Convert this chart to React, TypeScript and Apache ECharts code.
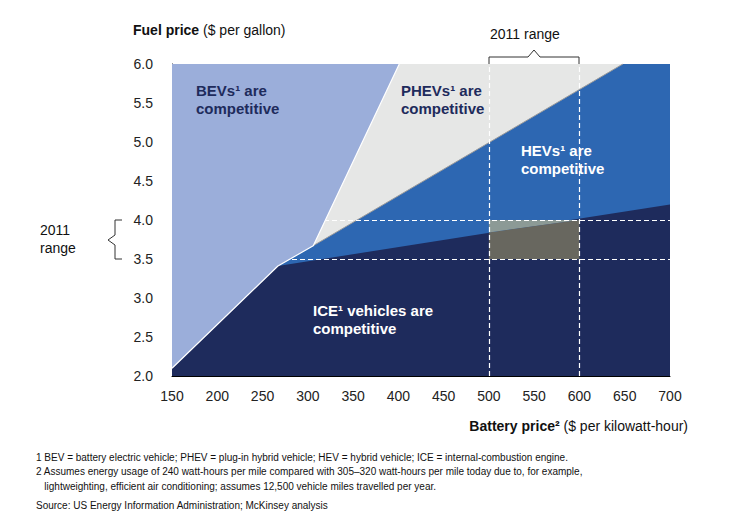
import React, { useEffect, useRef } from "react";
import * as echarts from "echarts";

// Boundaries between competitive regions (battery price $/kWh, fuel price $/gal)
const bevBoundary: number[][] = [[150, 2.1], [267, 3.41], [306, 3.67], [401, 6.0]];
const iceBoundary: number[][] = [[150, 2.1], [267, 3.41], [700, 4.2]];
const phevBoundary: number[][] = [[306, 3.67], [648, 6.0]];
// 2011 range box
const rangeBattery: number[] = [500, 600];
const rangeFuel: number[] = [3.5, 4.0];
const boxIceEdge: number[][] = [[500, 3.84], [600, 4.0]];

const xMin = 150, xMax = 700, xStep = 50;
const yMin = 2, yMax = 6, yStep = 0.5;

const footnotes: string[] = [
  "1 BEV = battery electric vehicle; PHEV = plug-in hybrid vehicle; HEV = hybrid vehicle; ICE = internal-combustion engine.",
  "2 Assumes energy usage of 240 watt-hours per mile compared with 305\u2013320 watt-hours per mile today due to, for example,",
  "   lightweighting, efficient air conditioning; assumes 12,500 vehicle miles travelled per year.",
];
const source = "Source: US Energy Information Administration; McKinsey analysis";

const FONT = "'Liberation Sans', Arial, sans-serif";
const NAVY = "#1E2B5C";
const HEV = "#2D67B2";
const BEV = "#9BAEDA";
const GRAY = "#E6E7E6";

export default function App() {
  const ref = useRef<HTMLDivElement>(null);
  useEffect(() => {
    if (!ref.current) return;
    const chart = echarts.init(ref.current, undefined, { renderer: "svg" });
    const regionLabel = (x: number, y: number, l1: string, l2: string, color: string) => ({
      type: "text",
      left: x,
      top: y,
      style: {
        text: l1 + "\n" + l2,
        fill: color,
        font: `bold 15px ${FONT}`,
        lineHeight: 18,
      },
      z: 100,
    });
    chart.setOption({
      animation: false,
      textStyle: { fontFamily: FONT },
      grid: {
        left: 172,
        top: 64,
        right: 62,
        bottom: 145,
        show: true,
        backgroundColor: HEV,
        borderWidth: 0,
      },
      xAxis: {
        type: "value",
        min: xMin,
        max: xMax,
        interval: xStep,
        axisLine: { show: true, lineStyle: { color: "#000", width: 1 } },
        axisTick: { show: true, inside: true, length: 5, lineStyle: { color: "#fff" } },
        axisLabel: { color: "#222", fontSize: 14, margin: 13, fontFamily: FONT },
        splitLine: { show: false },
      },
      yAxis: {
        type: "value",
        min: yMin,
        max: yMax,
        interval: yStep,
        axisLine: { show: true, lineStyle: { color: "#000", width: 1 } },
        axisTick: { show: true, inside: true, length: 5, lineStyle: { color: "#000" } },
        axisLabel: {
          color: "#222",
          fontSize: 14,
          margin: 19,
          fontFamily: FONT,
          formatter: (v: number) => v.toFixed(1),
        },
        splitLine: { show: false },
      },
      series: [
        {
          name: "PHEV",
          type: "line",
          data: phevBoundary,
          symbol: "none",
          lineStyle: { color: "#9A9A9A", width: 1 },
          areaStyle: { color: GRAY, opacity: 1, origin: "end" },
          z: 2,
        },
        {
          name: "ICE",
          type: "line",
          data: iceBoundary,
          symbol: "none",
          lineStyle: { width: 0 },
          areaStyle: { color: NAVY, opacity: 1, origin: "start" },
          z: 3,
        },
        {
          name: "Box",
          type: "custom",
          data: [[rangeBattery[0], rangeFuel[0]]],
          z: 4,
          renderItem: (params: any, api: any) => {
            if (params.dataIndex !== 0) return null;
            const lower = [
              [rangeBattery[0], rangeFuel[0]],
              [rangeBattery[1], rangeFuel[0]],
              boxIceEdge[1],
              boxIceEdge[0],
            ].map((p) => api.coord(p));
            const upper = [
              boxIceEdge[0],
              boxIceEdge[1],
              [rangeBattery[1], rangeFuel[1]],
              [rangeBattery[0], rangeFuel[1]],
            ].map((p) => api.coord(p));
            return {
              type: "group",
              children: [
                { type: "polygon", shape: { points: lower }, style: { fill: "#68675F" } },
                { type: "polygon", shape: { points: upper }, style: { fill: "#8C9A96" } },
              ],
            };
          },
        },
        {
          name: "BEV",
          type: "line",
          data: bevBoundary,
          symbol: "none",
          lineStyle: { color: "#FFFFFF", width: 1.2 },
          areaStyle: { color: BEV, opacity: 1, origin: "end" },
          z: 5,
        },
        {
          name: "Range",
          type: "line",
          data: [[xMin, yMin]],
          symbol: "none",
          lineStyle: { opacity: 0 },
          z: 10,
          markLine: {
            silent: true,
            symbol: ["none", "none"],
            label: { show: false },
            lineStyle: { color: "#FFFFFF", type: [5, 3], width: 1.2 },
            data: [
              { yAxis: rangeFuel[0] },
              { yAxis: rangeFuel[1] },
              { xAxis: rangeBattery[0] },
              { xAxis: rangeBattery[1] },
            ],
          },
        },
      ],
      graphic: [
        {
          type: "text",
          left: 133,
          top: 23,
          style: {
            text: "{b|Fuel price} ($ per gallon)",
            fill: "#111",
            font: `14px ${FONT}`,
            rich: { b: { fontWeight: "bold", fontSize: 14, fontFamily: FONT, fill: "#111" } },
          },
        },
        {
          type: "text",
          right: 44,
          top: 419,
          style: {
            text: "{b|Battery price\u00B2} ($ per kilowatt-hour)",
            fill: "#111",
            font: `14px ${FONT}`,
            rich: { b: { fontWeight: "bold", fontSize: 14, fontFamily: FONT, fill: "#111" } },
          },
        },
        {
          type: "text",
          left: 490,
          top: 27,
          style: { text: "2011 range", fill: "#111", font: `14px ${FONT}` },
        },
        {
          type: "polyline",
          shape: {
            points: [
              [489, 64], [489, 57], [528, 57], [534, 50], [540, 57], [579, 57], [579, 64],
            ],
          },
          style: { stroke: "#333", lineWidth: 1, fill: null },
        },
        {
          type: "text",
          left: 40,
          top: 221,
          style: { text: "2011\nrange", fill: "#111", font: `14px ${FONT}`, lineHeight: 18 },
        },
        {
          type: "polyline",
          shape: {
            points: [
              [122, 220], [115, 220], [115, 235], [108, 240], [115, 245], [115, 259], [122, 259],
            ],
          },
          style: { stroke: "#333", lineWidth: 1, fill: null },
        },
        regionLabel(196, 81, "BEVs\u00B9 are", "competitive", NAVY),
        regionLabel(401, 81, "PHEVs\u00B9 are", "competitive", NAVY),
        regionLabel(521, 141, "HEVs\u00B9 are", "competitive", "#FFFFFF"),
        regionLabel(313, 301, "ICE\u00B9 vehicles are", "competitive", "#FFFFFF"),
        ...footnotes.map((t, i) => ({
          type: "text",
          left: 36,
          top: 452 + i * 14.5,
          style: { text: t, fill: "#111", font: `10px ${FONT}` },
        })),
        {
          type: "text",
          left: 36,
          top: 500,
          style: { text: source, fill: "#111", font: `10px ${FONT}` },
        },
      ],
    });
    return () => chart.dispose();
  }, []);
  return (
    <div
      ref={ref}
      style={{ position: "fixed", left: 0, top: 0, width: 732, height: 521, background: "#fff" }}
    />
  );
}
